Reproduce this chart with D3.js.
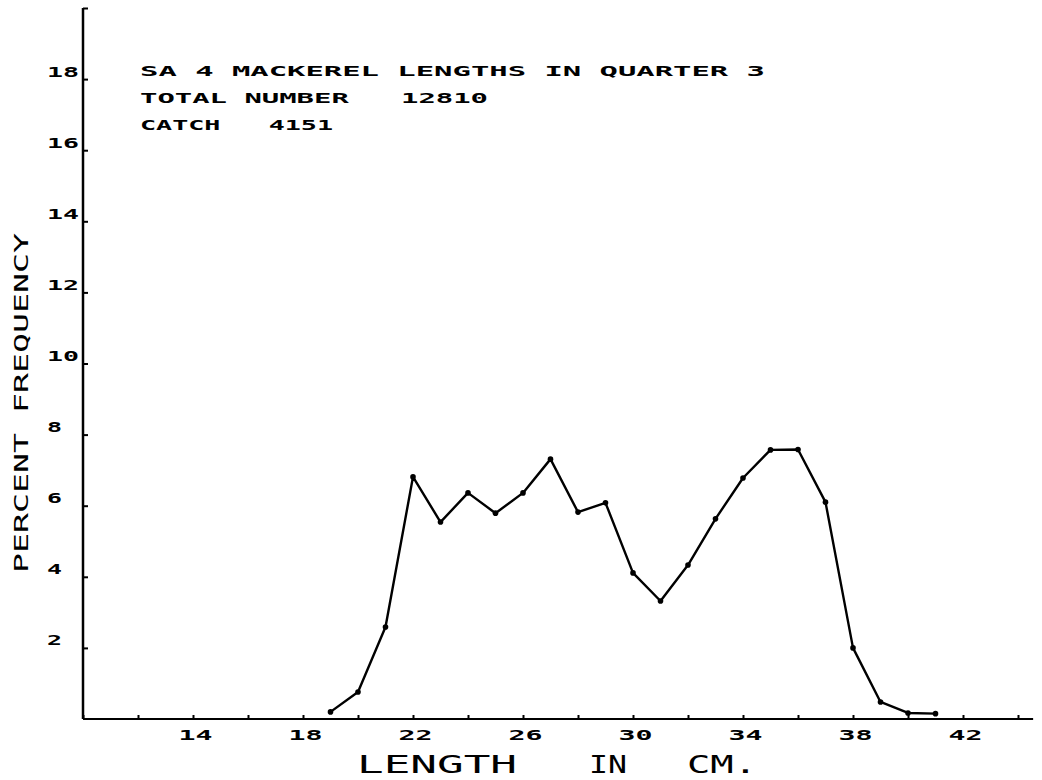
<!DOCTYPE html>
<html>
<head>
<meta charset="utf-8">
<script src="https://cdnjs.cloudflare.com/ajax/libs/d3/7.8.5/d3.min.js"></script>
<style>
	html, body { margin: 0; padding: 0; background: #fff; }
	svg { display: block; }
	.plot text { font-family: 'DejaVu Sans Mono', monospace; fill: #000; }
</style>
</head>
<body>
<svg id="chart" width="1042" height="780"></svg>
<script>
// Length classes (cm) and percent frequency
var lengths = [19, 20, 21, 22, 23, 24, 25, 26, 27, 28, 29, 30, 31, 32, 33, 34, 35, 36, 37, 38, 39, 40, 41];
var percents = [0.20, 0.76, 2.59, 6.81, 5.54, 6.36, 5.79, 6.36, 7.31, 5.82, 6.08, 4.11, 3.32, 4.33, 5.63, 6.78, 7.57, 7.58, 6.10, 2.00, 0.48, 0.17, 0.15];

// Axis ticks
var xTicks = [10, 12, 14, 16, 18, 20, 22, 24, 26, 28, 30, 32, 34, 36, 38, 40, 42, 44];
var xTickLabels = [14, 18, 22, 26, 30, 34, 38, 42];
var yTicks = [2, 4, 6, 8, 10, 12, 14, 16, 18, 20];
var yTickLabels = [2, 4, 6, 8, 10, 12, 14, 16, 18];

// Header text
var titleLines = ["SA 4 MACKEREL LENGTHS IN QUARTER 3", "TOTAL NUMBER   12810", "CATCH   4151"];
var titleWidths = [625, 348, 193];
var xTitleWords = ["LENGTH", "IN", "CM."];
var xTitleStarts = [357, 589, 687];
var xTitleWidths = [160, 38, 70];
var yTitle = "PERCENT FREQUENCY";

var svg = d3.select("#chart").attr("class", "plot");

var x = d3.scaleLinear().domain([10, 44]).range([83, 1018]);
var y = d3.scaleLinear().domain([0, 20]).range([719, 8]);

// Axis lines
svg.append("line")
	.attr("x1", x(10)).attr("x2", x(10))
	.attr("y1", y(0)).attr("y2", y(20))
	.attr("stroke", "#000").attr("stroke-width", 2.5);
svg.append("line")
	.attr("x1", x(10)).attr("x2", x(44.55))
	.attr("y1", y(0)).attr("y2", y(0))
	.attr("stroke", "#000").attr("stroke-width", 2);

// Y axis ticks and labels
var gy = svg.append("g")
	.attr("transform", "translate(" + x(10) + ",0)")
	.call(d3.axisLeft(y).tickValues(yTicks).tickSize(-5)
		.tickFormat(function(d) { return yTickLabels.indexOf(d) >= 0 ? d : ""; }));
gy.select(".domain").remove();
gy.selectAll(".tick line").attr("stroke", "#000").attr("stroke-width", 2);
gy.selectAll(".tick text")
	.attr("x", -36)
	.attr("dy", -3)
	.attr("text-anchor", "start")
	.style("font-size", "14px")
	.style("font-weight", "bold")
	.each(function(d) {
		if (yTickLabels.indexOf(d) >= 0) {
			d3.select(this)
				.attr("textLength", String(d).length > 1 ? 32 : 15)
				.attr("lengthAdjust", "spacingAndGlyphs");
		}
	});

// X axis ticks and labels
var gx = svg.append("g")
	.attr("transform", "translate(0," + y(0) + ")")
	.call(d3.axisBottom(x).tickValues(xTicks).tickSize(-4)
		.tickFormat(function(d) { return xTickLabels.indexOf(d) >= 0 ? d : ""; }));
gx.select(".domain").remove();
gx.selectAll(".tick line").attr("stroke", "#000").attr("stroke-width", 2);
gx.selectAll(".tick text")
	.attr("x", 2)
	.attr("y", 21)
	.attr("dy", 0)
	.style("font-size", "14px")
	.style("font-weight", "bold")
	.each(function(d) {
		if (xTickLabels.indexOf(d) >= 0) {
			d3.select(this).attr("textLength", 34).attr("lengthAdjust", "spacingAndGlyphs");
		}
	});

// Data line
var line = d3.line()
	.x(function(d, i) { return x(lengths[i]); })
	.y(function(d) { return y(d); });

svg.append("path")
	.datum(percents)
	.attr("fill", "none")
	.attr("stroke", "#000")
	.attr("stroke-width", 2.4)
	.attr("stroke-linejoin", "round")
	.attr("d", line);

svg.selectAll(".pt")
	.data(percents)
	.enter().append("circle")
		.attr("class", "pt")
		.attr("cx", function(d, i) { return x(lengths[i]); })
		.attr("cy", function(d) { return y(d); })
		.attr("r", 2.8)
		.attr("fill", "#000");

// Header
svg.selectAll(".title")
	.data(titleLines)
	.enter().append("text")
		.attr("class", "title")
		.attr("x", 140)
		.attr("y", function(d, i) { return 76 + i * 27; })
		.attr("textLength", function(d, i) { return titleWidths[i]; })
		.attr("lengthAdjust", "spacingAndGlyphs")
		.style("font-size", "14px")
		.style("font-weight", "bold")
		.attr("xml:space", "preserve")
		.text(function(d) { return d; });

// Axis titles
svg.selectAll(".xtitle")
	.data(xTitleWords)
	.enter().append("text")
		.attr("class", "xtitle")
		.attr("x", function(d, i) { return xTitleStarts[i]; })
		.attr("y", 773)
		.attr("textLength", function(d, i) { return xTitleWidths[i]; })
		.attr("lengthAdjust", "spacingAndGlyphs")
		.style("font-size", "25px")
		.text(function(d) { return d; });

svg.append("text")
	.attr("transform", "translate(28,573) rotate(-90)")
	.attr("textLength", 340)
	.attr("lengthAdjust", "spacingAndGlyphs")
	.attr("xml:space", "preserve")
	.style("font-size", "20px")
	.text(yTitle);
</script>
</body>
</html>
